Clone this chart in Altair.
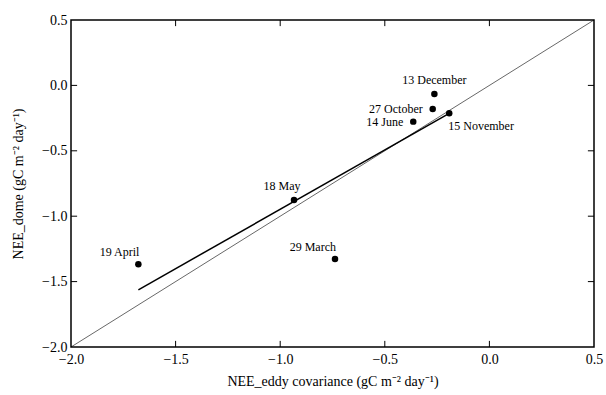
import altair as alt
import pandas as pd

# ---- data ----
dates = ["19 April", "18 May", "29 March", "14 June", "27 October", "13 December", "15 November"]
nee_eddy = [-1.678, -0.934, -0.738, -0.364, -0.271, -0.263, -0.192]
nee_dome = [-1.368, -0.876, -1.327, -0.277, -0.180, -0.066, -0.213]
one_to_one = [-2.0, 0.5]
tick_values = [-2.0, -1.5, -1.0, -0.5, 0.0, 0.5]
inner_ticks = [-1.5, -1.0, -0.5, 0.0]

df = pd.DataFrame({"date": dates, "eddy": nee_eddy, "dome": nee_dome})
line_df = pd.DataFrame({"v": one_to_one})
tick_df = pd.DataFrame({"t": inner_ticks, "lo": [one_to_one[0]] * len(inner_ticks),
                        "hi": [one_to_one[1]] * len(inner_ticks)})

FONT = "Liberation Serif"
dom = [-2.0, 0.5]

xs = alt.Scale(domain=dom, nice=False, zero=False)
ys = alt.Scale(domain=dom, nice=False, zero=False)

x_axis = alt.Axis(values=tick_values, format=".1f", tickSize=0, labelPadding=5,
                  domain=False, grid=False, labelFlush=False,
                  title="NEE_eddy covariance (gC m⁻² day⁻¹)", titlePadding=8)
y_axis = alt.Axis(values=tick_values, format=".1f", tickSize=0, labelPadding=4,
                  domain=False, grid=False, labelFlush=False,
                  title="NEE_dome (gC m⁻² day⁻¹)", titlePadding=16)

identity = alt.Chart(line_df).mark_line(color="black", strokeWidth=0.6).encode(
    x=alt.X("v:Q", scale=xs, axis=x_axis),
    y=alt.Y("v:Q", scale=ys, axis=y_axis),
)

regression = alt.Chart(df).transform_regression("eddy", "dome").mark_line(
    color="black", strokeWidth=1.5
).encode(
    x=alt.X("eddy:Q", scale=xs),
    y=alt.Y("dome:Q", scale=ys),
)

points = alt.Chart(df).mark_circle(color="black", opacity=1, size=42).encode(
    x=alt.X("eddy:Q", scale=xs),
    y=alt.Y("dome:Q", scale=ys),
)

base_text = alt.Chart(df).encode(
    x=alt.X("eddy:Q", scale=xs),
    y=alt.Y("dome:Q", scale=ys),
    text="date:N",
)


def grp(names, **kw):
    return base_text.transform_filter(
        alt.FieldOneOfPredicate(field="date", oneOf=names)
    ).mark_text(font=FONT, fontSize=12, color="black", **kw)


labels_above = grp(["13 December"], align="center", dy=-14)
labels_may = grp(["18 May"], align="center", dx=-12, dy=-14)
labels_left = grp(["27 October", "14 June"], align="right", dx=-10)
labels_upleft = grp(["19 April", "29 March"], align="right", dx=1, dy=-12)
labels_below = grp(["15 November"], align="left", dx=-1, dy=13)

tick_base = alt.Chart(tick_df)


def edge_ticks(path, **enc):
    return tick_base.mark_point(shape=path, size=150, filled=False, stroke="black",
                                strokeWidth=1, opacity=1).encode(**enc)


bottom_ticks = edge_ticks("M0,0L0,-1", x=alt.X("t:Q", scale=xs), y=alt.Y("lo:Q", scale=ys))
top_ticks = edge_ticks("M0,0L0,1", x=alt.X("t:Q", scale=xs), y=alt.Y("hi:Q", scale=ys))
left_ticks = edge_ticks("M0,0L1,0", y=alt.Y("t:Q", scale=ys), x=alt.X("lo:Q", scale=xs))
right_ticks = edge_ticks("M0,0L-1,0", y=alt.Y("t:Q", scale=ys), x=alt.X("hi:Q", scale=xs))

chart = alt.layer(
    identity, regression, bottom_ticks, top_ticks, left_ticks, right_ticks,
    points, labels_above, labels_may, labels_left, labels_upleft, labels_below,
).properties(
    width=523, height=327,
    autosize=alt.AutoSizeParams(type="none"),
    padding={"left": 71, "top": 20, "right": 12, "bottom": 48},
    background="white",
).configure_view(
    stroke="black", strokeWidth=1.5
).configure_axis(
    labelFont=FONT, titleFont=FONT, labelFontSize=14, titleFontSize=14,
    titleFontWeight="normal", labelColor="black", titleColor="black",
)

chart.save("out.html", embed_options={"renderer": "svg", "actions": False})
